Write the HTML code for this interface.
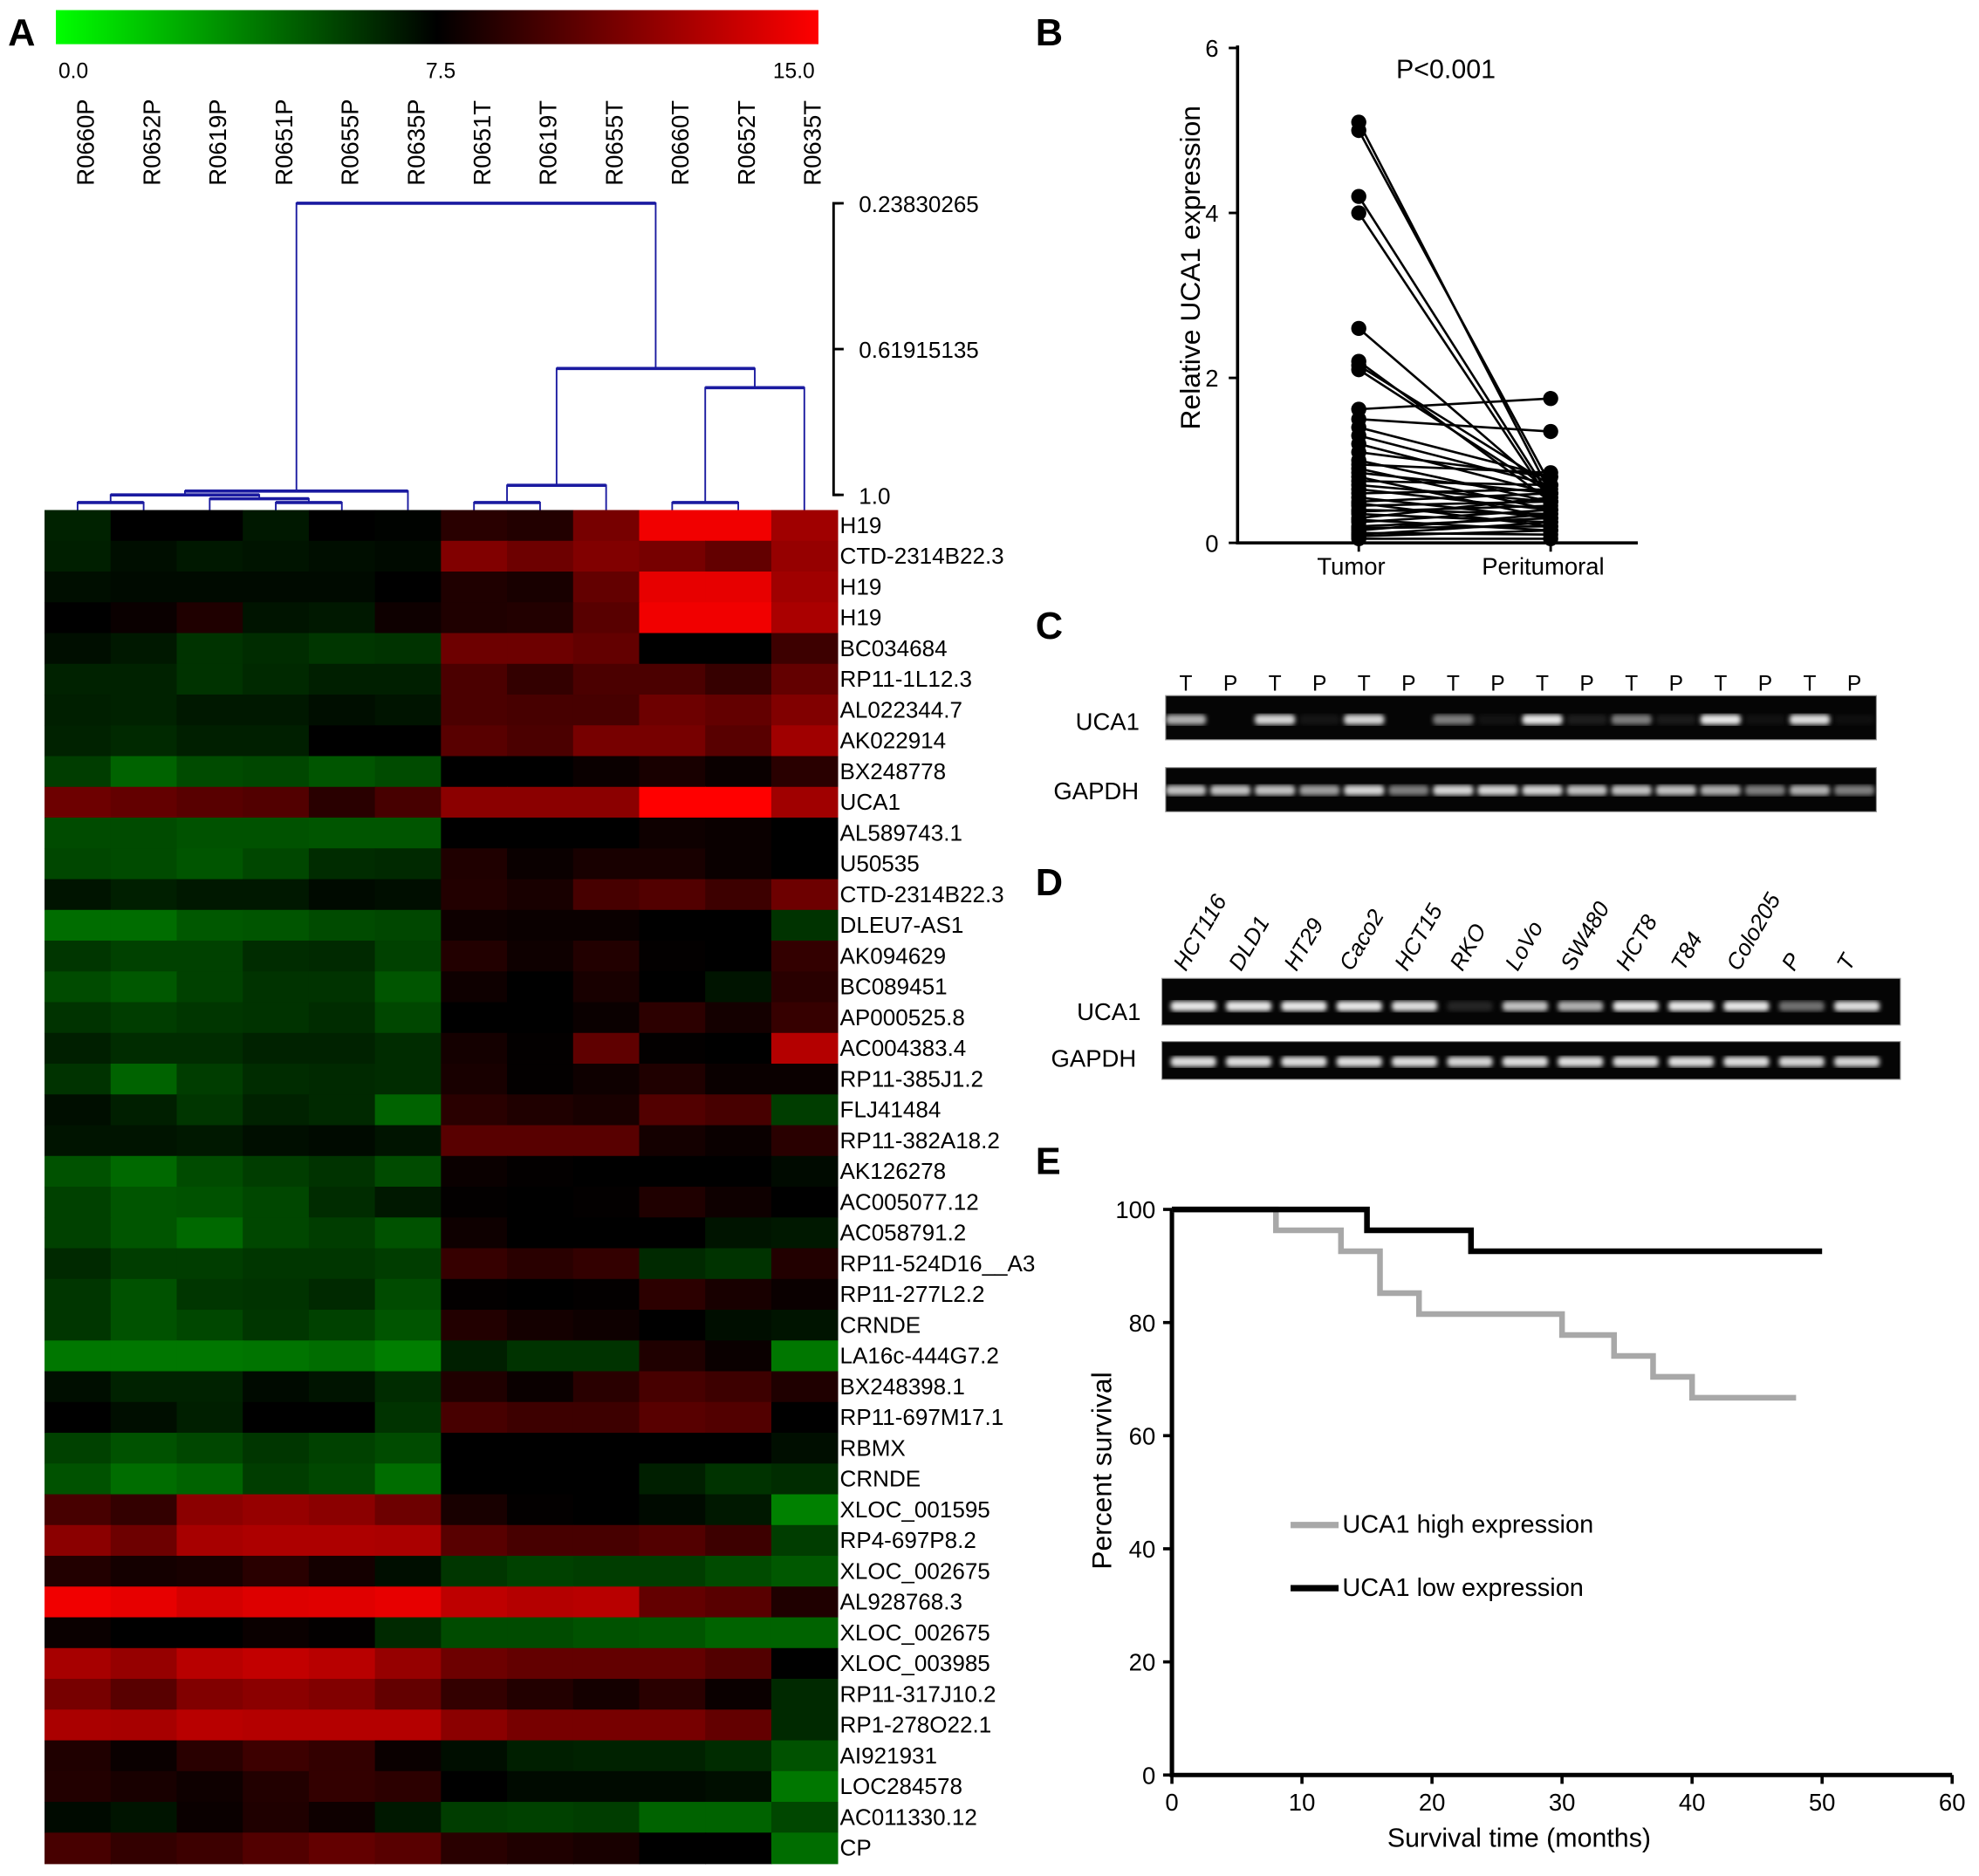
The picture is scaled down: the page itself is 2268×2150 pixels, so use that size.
<!DOCTYPE html>
<html><head><meta charset="utf-8"><style>
html,body{margin:0;padding:0;background:#fff;}
svg{display:block;font-family:"Liberation Sans",Arial,sans-serif;}
</style></head><body>
<svg id="fig" width="2268" height="2150" viewBox="0 0 1567 1486" xmlns="http://www.w3.org/2000/svg">
<defs><linearGradient id="cb" x1="0" x2="1" y1="0" y2="0"><stop offset="0" stop-color="#00ff00"/><stop offset="0.5" stop-color="#000"/><stop offset="1" stop-color="#ff0000"/></linearGradient>
<filter id="blur"><feGaussianBlur stdDeviation="1.8"/></filter></defs>
<g font-size="30" font-weight="bold">
<text x="6" y="36">A</text><text x="820" y="36">B</text><text x="820" y="506">C</text><text x="820" y="709">D</text><text x="820" y="930">E</text></g>
<rect x="44" y="8" width="604" height="27" fill="url(#cb)"/>
<g font-size="17"><text x="46" y="62">0.0</text><text x="337" y="62">7.5</text><text x="612" y="62">15.0</text></g>
<g id="heat"></g><g id="bpanel"></g><g id="gels"></g><g id="epanel"></g>
</svg>
<script>
const NS="http://www.w3.org/2000/svg";
function mk(p,t,a,txt){const e=document.createElementNS(NS,t);for(const k in a)e.setAttribute(k,a[k]);if(txt!==undefined)e.textContent=txt;p.appendChild(e);return e;}
// ---------- Panel A data ----------
const samples=["R0660P","R0652P","R0619P","R0651P","R0655P","R0635P","R0651T","R0619T","R0655T","R0660T","R0652T","R0635T"];
const genes=["H19","CTD-2314B22.3","H19","H19","BC034684","RP11-1L12.3","AL022344.7","AK022914","BX248778","UCA1","AL589743.1","U50535","CTD-2314B22.3","DLEU7-AS1","AK094629","BC089451","AP000525.8","AC004383.4","RP11-385J1.2","FLJ41484","RP11-382A18.2","AK126278","AC005077.12","AC058791.2","RP11-524D16__A3","RP11-277L2.2","CRNDE","LA16c-444G7.2","BX248398.1","RP11-697M17.1","RBMX","CRNDE","XLOC_001595","RP4-697P8.2","XLOC_002675","AL928768.3","XLOC_002675","XLOC_003985","RP11-317J10.2","RP1-278O22.1","AI921931","LOC284578","AC011330.12","CP"];
const expr=[
[6.5,7.5,7.5,6.8,7.5,7.4,8.7,8.5,11,14.6,14.6,12.2],
[6.6,7.1,6.8,6.9,7.1,7.2,11.3,10.7,11.3,11,10.4,11.9],
[7.1,7.2,7.2,7.2,7.2,7.5,8.4,8.2,10.4,14.3,14.3,12.2],
[7.5,7.8,8.4,6.9,6.8,7.9,8.4,8.5,10.1,14.6,14.6,12.5],
[7.1,6.8,6,6.2,5.9,6,10.7,10.7,10.4,7.5,7.5,9.3],
[6.5,6.5,6,6.3,6.6,6.6,9.7,9,9.7,9.7,9.1,10.4],
[6.6,6.5,6.8,6.8,7.1,6.9,9.7,9.6,9.6,10.7,10.4,11.3],
[6.5,6.3,6.6,6.6,7.5,7.5,10.1,9.7,11,11,10.1,12.2],
[5.7,4.6,5.3,5.4,5,5.3,7.5,7.5,7.8,8.2,7.8,8.7],
[10.7,10.4,10.1,9.9,8.7,9.6,11.6,11.6,11.6,15,15,12.2],
[5.3,5.3,5.1,5.1,5,5,7.5,7.5,7.5,7.9,7.8,7.5],
[5.4,5.3,5,5.4,6.2,6.3,8.4,7.8,8.2,8.2,7.8,7.5],
[6.9,6.6,6.8,6.8,7.2,7.1,8.5,8.2,9.6,9.9,9.3,10.7],
[4.3,4.3,4.9,5,5.3,5.4,7.9,7.8,7.8,7.5,7.5,6],
[5.9,5.6,5.6,6.2,6.3,5.6,8.5,7.9,8.5,7.6,7.5,9],
[5.3,4.9,5.6,6,6,5,7.9,7.5,8.2,7.5,6.9,8.7],
[6,5.7,5.9,6,6.2,5.4,7.5,7.5,7.8,8.8,8.1,9.1],
[6.6,6.2,6.2,6.5,6.5,6.2,8.1,7.6,10.3,7.6,7.5,12.8],
[6,4.6,5.7,6.2,6.3,6.2,8.2,7.6,7.9,8.4,7.8,7.8],
[7.1,6.6,5.9,6.5,6.3,4.6,8.7,8.4,8.2,9.9,9.6,5.7],
[6.9,6.9,6.8,7.1,7.2,6.9,10.1,10.1,10.1,8.1,7.8,8.7],
[5.1,4.4,5.3,5.7,6,5.3,7.8,7.6,7.5,7.5,7.5,7.2],
[5.6,5,5.1,5.4,6.2,6.8,7.6,7.5,7.6,8.4,7.9,7.5],
[5.6,5,4.4,5.4,5.7,5.1,7.9,7.5,7.5,7.5,6.9,6.8],
[6.3,5.7,5.7,5.9,5.9,5.7,9.1,8.7,9,6.3,6,8.5],
[5.9,5.1,5.9,6,6.3,5.3,7.6,7.5,7.6,8.8,8.2,7.8],
[5.9,5.1,5.4,5.9,5.6,5,8.5,8.1,7.9,7.5,7.1,6.9],
[4,4,4,4.1,4.3,3.8,6.6,6,6,8.4,7.8,4],
[7.1,6.5,6.5,7.2,6.9,6.2,8.4,7.8,8.7,9.6,9.3,8.4],
[7.5,7.1,6.6,7.5,7.5,6,9.6,9.3,9.3,10.1,9.9,7.5],
[5.6,5.1,5.4,5.9,5.6,5.3,7.5,7.5,7.5,7.5,7.5,7.1],
[5.1,4.3,4.6,5.7,5.4,4.3,7.5,7.5,7.5,6.6,6,6.2],
[9.6,9,11.6,11.9,11.6,10.7,8.2,7.6,7.5,7.2,6.8,3.7],
[11.6,10.7,12.4,12.6,12.6,12.5,10.1,9.6,9.6,9.9,9.3,5.7],
[8.5,8.1,8.2,8.7,8.1,7.1,5.9,5.6,5.7,5.7,5.3,4.9],
[14.6,14.3,13.7,14,14.1,14.3,13.1,12.8,12.9,10.4,10.1,8.4],
[7.8,7.5,7.5,7.8,7.6,6.3,5.3,5.3,5.1,5,4.6,4.6],
[12.4,11.9,12.9,13.2,12.9,11.9,10.7,10.4,10.4,10.4,9.9,7.5],
[11,10.1,11.3,11.6,11.3,10.4,9,8.5,8.1,8.7,7.8,6.3],
[12.5,12.4,12.9,12.8,12.8,12.8,11.6,11,11,11,10.4,6.3],
[8.4,7.8,8.7,9.3,9,7.8,7.1,6.6,6.5,6.5,6.2,5.1],
[8.5,8.2,7.9,8.5,9,8.8,7.5,7.2,7.2,7.2,7.1,4],
[7.2,6.9,7.8,8.4,7.9,6.8,5.7,5.6,5.7,4.6,4.6,5.4],
[9.6,9,9.3,9.9,10.4,10.1,8.7,8.4,8.2,7.5,7.5,4.3]];
// dendrogram merges: [leftNode,rightNode,height]; leaves 0..11
const merges=[[3,4,1.02],[0,1,1.02],[2,12,1.01],[13,14,1.0],[15,5,0.99],[6,7,1.02],[17,8,0.975],[9,10,1.02],[19,11,0.72],[18,20,0.67],[16,21,0.2383]];
const distTicks=["0.23830265","0.61915135","1.0"];
const distTickVals=[0.2383,0.6192,1.0];
// ---------- Panel B data ----------
const tumorVals=[5.1,5.0,4.2,4.0,2.6,2.2,2.15,2.1,1.62,1.5,1.4,1.3,1.2,1.1,1.0,0.95,0.9,0.85,0.8,0.75,0.7,0.65,0.6,0.55,0.5,0.48,0.45,0.4,0.38,0.35,0.3,0.28,0.25,0.2,0.18,0.15,0.12,0.1,0.08,0.05];
const periVals=[0.6,0.7,0.55,0.5,0.6,0.5,0.7,0.6,1.75,1.35,0.8,0.7,0.6,0.8,0.5,0.85,0.4,0.6,0.3,0.7,0.5,0.4,0.65,0.3,0.6,0.2,0.5,0.35,0.45,0.25,0.55,0.15,0.4,0.3,0.2,0.35,0.1,0.25,0.15,0.05];
const bTicks=[0,2,4,6];
// ---------- Gel data ----------
const gelCLabels=["T","P","T","P","T","P","T","P","T","P","T","P","T","P","T","P"];
const gelCUca1=[0.75,0,0.85,0.08,0.85,0,0.6,0.06,0.95,0.15,0.6,0.12,0.95,0.05,0.9,0.02];
const gelCGapdh=[0.8,0.8,0.8,0.7,0.85,0.6,0.85,0.85,0.85,0.8,0.8,0.8,0.75,0.6,0.75,0.6];
const gelDLabels=["HCT116","DLD1","HT29","Caco2","HCT15","RKO","LoVo","SW480","HCT8","T84","Colo205","P","T"];
const gelDUca1=[0.95,0.95,0.95,0.95,0.9,0.2,0.8,0.75,0.95,0.95,0.95,0.55,0.9];
const gelDGapdh=[0.9,0.9,0.9,0.9,0.9,0.85,0.9,0.9,0.9,0.9,0.9,0.85,0.85];
// ---------- Panel E data ----------
const highT=[0,8,13,16,19,30,34,37,40,48];
const highS=[100,96.3,92.6,85.2,81.5,77.8,74.1,70.4,66.7,66.7];
const lowT=[0,15,23,50];
const lowS=[100,96.3,92.6,92.6];
const eXTicks=[0,10,20,30,40,50,60];
const eYTicks=[0,20,40,60,80,100];

// ===== Panel A =====
const heat=document.getElementById('heat');
const hx0=35,hy0=404,cw=628/12,rh=1072/44;
function col(v){const d=(v-7.5)/7.5;const c=Math.round(Math.min(1,Math.abs(d))*255);return d>=0?`rgb(${c},0,0)`:`rgb(0,${c},0)`;}
expr.forEach((row,r)=>row.forEach((v,c)=>{
 const e=mk(heat,'rect',{x:hx0+c*cw,y:hy0+r*rh,width:cw+0.6,height:rh+0.6,fill:col(v)});
 
 
}));
genes.forEach((g,r)=>{const e=mk(heat,'text',{x:665,y:hy0+r*rh+rh/2+6,'font-size':18},g);
 
 });
samples.forEach((s,c)=>{const x=hx0+(c+0.5)*cw+13,y=147;const e=mk(heat,'text',{x:x,y:y,'font-size':19,transform:`rotate(-90 ${x} ${y})`},s);
 
 });
const dY=v=>161+(v-0.2383)/(1-0.2383)*(392-161);
const nodeX=[],nodeY=[];
for(let i=0;i<12;i++){nodeX.push(hx0+(i+0.5)*cw);nodeY.push(404);}
merges.forEach(m=>{const [a,b,h]=m;const y=dY(h);const x1=nodeX[a],x2=nodeX[b];
 const p=mk(heat,'path',{d:`M${x1} ${nodeY[a]}V${y}H${x2}V${nodeY[b]}`,fill:'none',stroke:'#1a1aa0','stroke-width':1.3});
 
 
 const bar=mk(heat,'line',{x1:x1,x2:x2,y1:y,y2:y,stroke:'#1a1aa0','stroke-width':2.5});
 
 
 nodeX.push((x1+x2)/2);nodeY.push(y);});
const sc=mk(heat,'path',{d:`M665 ${dY(0.2383)}H660V${dY(1)}H665`,fill:'none',stroke:'#000','stroke-width':2});


distTicks.forEach((t,i)=>{const y=dY(distTickVals[i]);mk(heat,'line',{x1:660,x2:668,y1:y,y2:y,stroke:'#000','stroke-width':2});
 const e=mk(heat,'text',{x:680,y:y+7,'font-size':18},t);
 
 });

// ===== Panel B =====
const bp=document.getElementById('bpanel');
const bY=v=>430-v*(392/6), bXT=1076,bXP=1228;
mk(bp,'path',{d:'M980 36V430H1297',fill:'none',stroke:'#000','stroke-width':2.5});
bTicks.forEach(t=>{mk(bp,'line',{x1:973,x2:980,y1:bY(t),y2:bY(t),stroke:'#000','stroke-width':2});
 const e=mk(bp,'text',{x:965,y:bY(t)+7,'font-size':19,'text-anchor':'end'},t);
 
 });
[[bXT,'Tumor'],[bXP,'Peritumoral']].forEach(([x,l])=>{mk(bp,'line',{x1:x,x2:x,y1:430,y2:437,stroke:'#000','stroke-width':2});
 const e=mk(bp,'text',{x:x-6,y:455,'font-size':19,'text-anchor':'middle'},l);
 
 });
{const e=mk(bp,'text',{x:950,y:212,'font-size':22,'text-anchor':'middle',transform:'rotate(-90 950 212)'},'Relative  UCA1 expression');
 
 
 const p=mk(bp,'text',{x:1145,y:62,'font-size':21,'text-anchor':'middle'},'P<0.001');
 
 }
tumorVals.forEach((t,i)=>{const pv=periVals[i];
 const l=mk(bp,'line',{x1:bXT,y1:bY(t),x2:bXP,y2:bY(pv),stroke:'#000','stroke-width':1.8});
 
 
 const a=mk(bp,'circle',{cx:bXT,cy:bY(t),r:6,fill:'#000'});
 
 
 const b=mk(bp,'circle',{cx:bXP,cy:bY(pv),r:6,fill:'#000'});
 
 });

// ===== Gels =====
const gg=document.getElementById('gels');
function gel(x,y,w,h,name){const r=mk(gg,'rect',{x:x,y:y,width:w,height:h,fill:'#050505',stroke:'#999','stroke-width':0.8});}
function band(cx,cy,w,inten,name){if(inten<=0)return;const g=Math.round(60+inten*180);
 const b=mk(gg,'rect',{x:cx-w/2,y:cy-4,width:w,height:8,rx:3,fill:`rgb(${g},${g},${g})`,opacity:Math.min(1,inten+0.15),filter:'url(#blur)'});
 
 }
gel(923,551,563,35,'gel-c-uca1');gel(923,608,563,35,'gel-c-gapdh');
gelCLabels.forEach((l,i)=>{const x=939+i*35.3;
 const t=mk(gg,'text',{x:x,y:547,'font-size':17,'text-anchor':'middle'},l);
 
 
 band(x,570,32,gelCUca1[i],'gel-c-uca1-band');band(x,626,32,gelCGapdh[i],'gel-c-gapdh-band');});
gel(920,775,585,37,'gel-d-uca1');gel(920,825,585,30,'gel-d-gapdh');
gelDLabels.forEach((l,i)=>{const x=945+i*43.8;
 const t=mk(gg,'text',{x:x-6,y:770,'font-size':18,'font-style':'italic',transform:`rotate(-60 ${x-6} 770)`},l);
 
 
 band(x,797,36,gelDUca1[i],'gel-d-uca1-band');band(x,841,36,gelDGapdh[i],'gel-d-gapdh-band');});
[['UCA1',877,578],['GAPDH',868,633],['UCA1',878,808],['GAPDH',866,845]].forEach(([t,x,y])=>{const e=mk(gg,'text',{x:x,y:y,'font-size':19,'text-anchor':'middle'},t);
 
 });

// ===== Panel E =====
const ep=document.getElementById('epanel');
const eX=v=>928+v*(618/60), eY=v=>1406-v*(448/100);
mk(ep,'path',{d:`M${eX(0)} ${eY(100)}V${eY(0)}H${eX(60)}`,fill:'none',stroke:'#000','stroke-width':3.5});
eXTicks.forEach(t=>{mk(ep,'line',{x1:eX(t),x2:eX(t),y1:1406,y2:1413,stroke:'#000','stroke-width':2.5});
 const e=mk(ep,'text',{x:eX(t),y:1434,'font-size':19,'text-anchor':'middle'},t);
 
 });
eYTicks.forEach(t=>{mk(ep,'line',{x1:921,x2:928,y1:eY(t),y2:eY(t),stroke:'#000','stroke-width':2.5});
 const e=mk(ep,'text',{x:915,y:eY(t)+7,'font-size':19,'text-anchor':'end'},t);
 
 });
function km(T,S,color,name){let d=`M${eX(T[0])} ${eY(S[0])}`;for(let i=1;i<T.length;i++){d+=`H${eX(T[i])}V${eY(S[i])}`;}
 const p=mk(ep,'path',{d:d,fill:'none',stroke:color,'stroke-width':4.5});
 
 }
km(highT,highS,'#a8a8a8','km-high-expression');
km(lowT,lowS,'#000','km-low-expression');
{const a=mk(ep,'text',{x:1203,y:1463,'font-size':21,'text-anchor':'middle'},'Survival time (months)');
 const b=mk(ep,'text',{x:880,y:1165,'font-size':22,'text-anchor':'middle',transform:'rotate(-90 880 1165)'},'Percent survival');
 mk(ep,'line',{x1:1022,x2:1060,y1:1208,y2:1208,stroke:'#a8a8a8','stroke-width':5});
 const c=mk(ep,'text',{x:1063,y:1214,'font-size':20},'UCA1 high expression');
 mk(ep,'line',{x1:1022,x2:1060,y1:1258,y2:1258,stroke:'#000','stroke-width':5});
 const d=mk(ep,'text',{x:1063,y:1264,'font-size':20},'UCA1 low expression');}
</script>
</body></html>
